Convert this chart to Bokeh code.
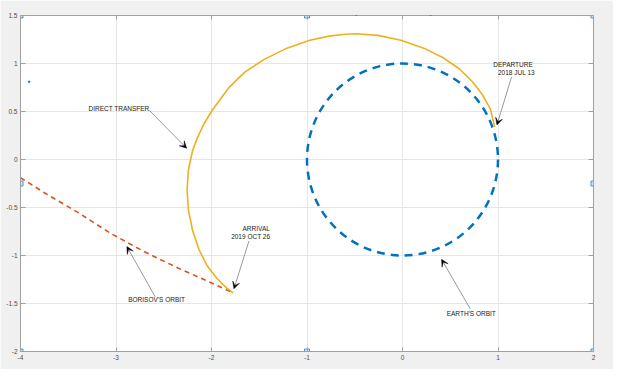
from bokeh.plotting import figure
from bokeh.models import Range1d, FixedTicker, LinearAxis, Arrow, VeeHead, Label
from bokeh.embed import file_html
from bokeh.resources import INLINE
from bokeh.core.properties import value

title_text = "EARTH TO BORISOV DIRECT OPTIMUM TRAJECTORY (ADAM HIBBERD - OITS)"

x_ticks = [-4, -3, -2, -1, 0, 1, 2]
x_tick_labels = ["-4", "-3", "-2", "-1", "0", "1", "2"]
y_ticks = [-2.0, -1.5, -1.0, -0.5, 0.0, 0.5, 1.0, 1.5]
y_tick_labels = ["-2", "-1.5", "-1", "-0.5", "0", "0.5", "1", "1.5"]

earth_orbit_center_x = 0.0
earth_orbit_center_y = 0.0
earth_orbit_radius = 1.0

transfer_x = [0.965, 0.92, 0.835, 0.733, 0.597, 0.426, 0.222, -0.016, -0.256,
              -0.494, -0.60, -0.77, -0.971, -1.21, -1.448, -1.652, -1.823,
              -1.994, -2.08, -2.15, -2.198, -2.242, -2.256, -2.242, -2.198,
              -2.13, -2.045, -1.943, -1.84, -1.772]
transfer_y = [0.34, 0.527, 0.677, 0.81, 0.943, 1.06, 1.16, 1.243, 1.293,
              1.31, 1.305, 1.285, 1.243, 1.16, 1.043, 0.91, 0.743,
              0.51, 0.37, 0.22, 0.093, -0.107, -0.323, -0.523, -0.74,
              -0.94, -1.107, -1.24, -1.34, -1.39]

borisov_x = [-4.0, -3.732, -3.39, -3.05, -2.71, -2.368, -2.028, -1.772]
borisov_y = [-0.19, -0.357, -0.557, -0.773, -0.957, -1.123, -1.273, -1.39]

label_text = ["DIRECT TRANSFER", "DEPARTURE", "2018 JUL 13", "ARRIVAL",
              "2019 OCT 26", "BORISOV'S ORBIT", "EARTH'S ORBIT"]
label_x = [-2.969, 1.157, 1.193, -1.532, -1.59, -2.575, 0.72]
label_y = [0.533, 0.987, 0.903, -0.717, -0.797, -1.463, -1.6]

arrow_x_start = [-2.649, 1.142, -1.608, -2.59, 0.71]
arrow_y_start = [0.51, 0.86, -0.85, -1.43, -1.557]
arrow_x_end = [-2.26, 0.989, -1.765, -2.886, 0.409]
arrow_y_end = [0.117, 0.36, -1.347, -0.907, -1.04]

handle_x = [-4, -1, 2, -4, 2, -4, -1, 2]
handle_y = [1.5, 1.5, 1.5, -0.25, -0.25, -2, -2, -2]

stray_x = [-3.91]
stray_y = [0.81]

FONT = "Liberation Sans"

p = figure(frame_width=573, frame_height=336,
           x_range=Range1d(-4, 2), y_range=Range1d(-2, 1.5),
           output_backend="svg", toolbar_location=None,
           min_border_left=20, min_border_right=20,
           min_border_top=15, min_border_bottom=18,
           background_fill_color="white", border_fill_color="#f0f0f0",
           outline_line_color=None)

p.add_layout(LinearAxis(), "right")
p.add_layout(LinearAxis(), "above")

for ax in p.xaxis:
    ax.ticker = FixedTicker(ticks=x_ticks)
    ax.major_label_overrides = dict(zip(x_ticks, x_tick_labels))
    ax.major_tick_in = 4
for ax in p.yaxis:
    ax.ticker = FixedTicker(ticks=y_ticks)
    ax.major_label_overrides = dict(zip(y_ticks, y_tick_labels))
    ax.major_tick_in = 5

for ax in p.axis:
    ax.axis_line_color = "#a0a0a0"
    ax.major_tick_line_color = "#a0a0a0"
    ax.major_tick_out = 0
    ax.minor_tick_line_color = None
    ax.major_label_text_font = FONT
    ax.major_label_text_font_size = "6.5px"
    ax.major_label_text_color = "#4d4d4d"
    ax.major_label_standoff = 3

for ax in p.right + p.above:
    ax.major_label_text_color = None
    ax.major_label_standoff = 0

p.xgrid.ticker = FixedTicker(ticks=x_ticks)
p.ygrid.ticker = FixedTicker(ticks=y_ticks)
p.xgrid.grid_line_color = "#e6e6e6"
p.ygrid.grid_line_color = "#e6e6e6"

p.ellipse(x=[earth_orbit_center_x], y=[earth_orbit_center_y],
          width=[2 * earth_orbit_radius], height=[2 * earth_orbit_radius],
          fill_color=None, line_color="#0072BD", line_width=2.5,
          line_dash="8 6")

p.line(borisov_x, borisov_y, line_color="#D95319", line_width=1.6,
       line_dash="5 4")
p.line(transfer_x, transfer_y, line_color="#EDB120", line_width=1.6,
       line_join="round")

p.scatter(stray_x, stray_y, size=1.5, color="#2a52be")

for xs, ys, xe, ye in zip(arrow_x_start, arrow_y_start, arrow_x_end, arrow_y_end):
    p.add_layout(Arrow(end=VeeHead(size=7, fill_color="black",
                                   line_color="black", line_width=0.5),
                       x_start=xs, y_start=ys, x_end=xe, y_end=ye,
                       line_color="#555555", line_width=0.6))

p.text(x=label_x, y=label_y, text=label_text, text_font=value(FONT),
       text_font_size="6.5px", text_align="center", text_baseline="middle",
       text_color="#1a1a1a")

p.add_layout(Label(x=-1, y=1.5, text=title_text, text_font=FONT,
                   text_font_size="6.6px", text_font_style="bold",
                   text_align="center", text_baseline="middle",
                   y_offset=4.2, text_color="black"))

p.scatter(handle_x, handle_y, marker="square", size=5,
          line_color="#4f93cf", fill_color="#d4e6f5", line_width=1)

open("out.html", "w").write(file_html(p, INLINE))
